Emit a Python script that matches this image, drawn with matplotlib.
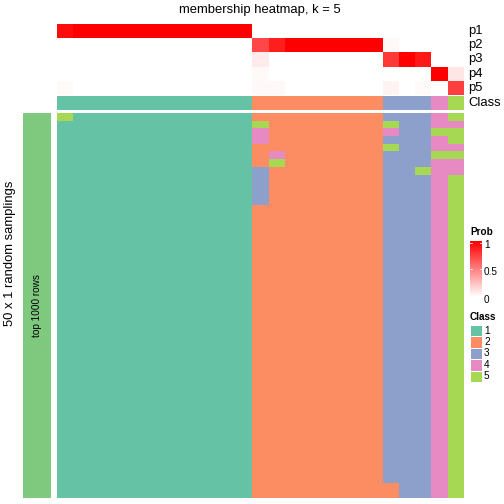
import matplotlib
matplotlib.use("Agg")
import matplotlib.pyplot as plt
import numpy as np
from matplotlib.colors import ListedColormap, LinearSegmentedColormap
from matplotlib.patches import Rectangle

plt.rcParams['font.family'] = ['Liberation Sans', 'DejaVu Sans']

n_rows = 50
n_cols = 25

class_colors = ["#66C2A5", "#FC8D62", "#8DA0CB", "#E78AC3", "#A6D854"]
class_labels = ["1", "2", "3", "4", "5"]
prob_labels = ["p1", "p2", "p3", "p4", "p5"]
prob_ticks = [1.0, 0.5, 0.0]
prob_tick_labels = ["1", "0.5", "0"]

# consensus class of each column
column_class = [1] * 12 + [2] * 8 + [3] * 3 + [4] + [5]

# membership probabilities, one list per class (p1..p5)
p1 = [0.95] + [1.0] * 11 + [0.0] * 13
p2 = [0.0] * 12 + [0.72, 0.88, 1.0, 1.0, 1.0, 1.0, 1.0, 1.0, 0.03, 0.0, 0.0, 0.0, 0.0]
p3 = [0.0] * 12 + [0.08, 0, 0, 0, 0, 0, 0, 0, 0.78, 1.0, 0.9, 0.0, 0.0]
p4 = [0.0] * 12 + [0.02, 0, 0, 0, 0, 0, 0, 0, 0.0, 0.0, 0.0, 1.0, 0.1]
p5 = [0.02] + [0.0] * 11 + [0.03, 0.03, 0, 0, 0, 0, 0, 0, 0.05, 0.0, 0.02, 0.0, 0.75]

# class assigned in each random sampling (row, column, class) where it differs from column_class
overrides = [
    (0, 0, 5),
    (1, 12, 5), (2, 12, 4), (3, 12, 4),
    (7, 12, 3), (8, 12, 3), (9, 12, 3), (10, 12, 3), (11, 12, 3),
    (5, 13, 4), (6, 13, 5),
    (1, 20, 5), (2, 20, 4), (4, 20, 5), (48, 20, 2), (49, 20, 2),
    (7, 22, 5),
    (2, 23, 5), (5, 23, 5),
    (0, 24, 5), (1, 24, 4), (2, 24, 5), (3, 24, 5),
    (4, 24, 4), (5, 24, 5), (6, 24, 4), (7, 24, 4),
]

samplings = np.tile(np.array(column_class), (n_rows, 1))
for r, c, k in overrides:
    samplings[r, c] = k

W, H = 504, 504
fig = plt.figure(figsize=(W / 72, H / 72), dpi=72)


def box(x0, y0, x1, y1):
    return [x0 / W, 1 - y1 / H, (x1 - x0) / W, (y1 - y0) / H]


class_cmap = ListedColormap(class_colors)
prob_cmap = LinearSegmentedColormap.from_list("prob", ["#FFFFFF", "#FF0000"])

# membership rows
ax_p = fig.add_axes(box(57, 24, 464, 95))
memb = np.array([p1, p2, p3, p4, p5])
ax_p.imshow(memb, cmap=prob_cmap, vmin=0, vmax=1, aspect="auto", interpolation="nearest")
ax_p.set_axis_off()
for i, lab in enumerate(prob_labels):
    fig.text(468 / W, 1 - (31 + 14.2 * i) / H, lab, fontsize=13, va="center", ha="left")

# class annotation
ax_c = fig.add_axes(box(57, 96, 464, 110))
ax_c.imshow(np.array([column_class]), cmap=class_cmap, vmin=0.5, vmax=5.5,
            aspect="auto", interpolation="nearest")
ax_c.set_axis_off()
fig.text(468 / W, 1 - 103 / H, "Class", fontsize=13, va="center", ha="left")

# main heatmap
ax_m = fig.add_axes(box(57, 112.7, 464, 497.7))
ax_m.imshow(samplings, cmap=class_cmap, vmin=0.5, vmax=5.5, aspect="auto", interpolation="nearest")
ax_m.set_axis_off()

# left annotation bar
ax_l = fig.add_axes(box(22.7, 112.7, 51, 497.7))
ax_l.add_patch(Rectangle((0, 0), 1, 1, color="#7FC97F"))
ax_l.set_xlim(0, 1)
ax_l.set_ylim(0, 1)
ax_l.set_axis_off()
ax_l.text(0.5, 0.5, "top 1000 rows", rotation=90, fontsize=10, ha="center", va="center")

fig.text(10 / W, 1 - 253 / H, "50 x 1 random samplings", rotation=90, fontsize=13,
         ha="center", va="center")
fig.text(260 / W, 1 - 10 / H, "membership heatmap, k = 5", fontsize=13, ha="center", va="center")

# Prob legend
fig.text(470 / W, 1 - 232 / H, "Prob", fontsize=10, fontweight="bold", ha="left", va="center")
ax_cb = fig.add_axes(box(470, 241, 482, 297))
grad = np.linspace(1, 0, 100).reshape(-1, 1)
ax_cb.imshow(grad, cmap=prob_cmap, vmin=0, vmax=1, aspect="auto", extent=[0, 1, 0, 1])
for v in [0.03, 0.5, 0.97]:
    ax_cb.plot([0, 0.2], [v, v], color="white", lw=0.8)
    ax_cb.plot([0.8, 1], [v, v], color="white", lw=0.8)
ax_cb.set_xlim(0, 1)
ax_cb.set_ylim(0, 1)
ax_cb.set_axis_off()
for v, lab in zip(prob_ticks, prob_tick_labels):
    fig.text(484 / W, 1 - (299.7 - 55 * v) / H, lab, fontsize=10, ha="left", va="center")

# Class legend
fig.text(470 / W, 1 - 317 / H, "Class", fontsize=10, fontweight="bold", ha="left", va="center")
for i, (col, lab) in enumerate(zip(class_colors, class_labels)):
    y0 = 325 + 11.4 * i
    fig.patches.append(Rectangle((470 / W, 1 - (y0 + 11.4) / H), 12 / W, 11.4 / H, facecolor=col,
                                 edgecolor="white", lw=1, transform=fig.transFigure, figure=fig))
    fig.text(484 / W, 1 - (y0 + 5.7) / H, lab, fontsize=10, ha="left", va="center")

fig.savefig("out.png", dpi=72)
